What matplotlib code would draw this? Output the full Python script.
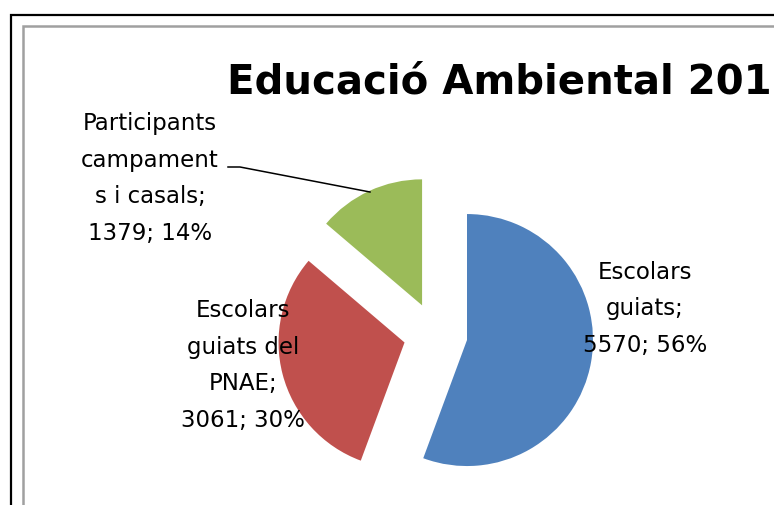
import matplotlib.pyplot as plt
from matplotlib.patches import Rectangle

# data
categories = ["Escolars\nguiats", "Escolars\nguiats del\nPNAE", "Participants\ncampament\ns i casals"]
values = [5570, 3061, 1379]
percents = [56, 30, 14]
colors = ["#4F81BD", "#C0504D", "#9BBB59"]
title = "Educació Ambiental 2012"

W, H = 774, 505
plt.rcParams['font.family'] = ['DejaVu Sans']

fig = plt.figure(figsize=(W / 100, H / 100), dpi=100)
ax = fig.add_axes([0, 0, 1, 1])


def py(y):
    # pixel row (from top) -> data y
    return H - y


# frame lines (outer black, inner gray), cut at right/bottom like the screenshot
ax.add_patch(Rectangle((11, py(530)), 900, 530 - 15, fill=False, ec='black', lw=1.6))
ax.add_patch(Rectangle((22.5, py(530)), 900, 530 - 26, fill=False, ec='#A0A0A0', lw=1.8))

# exploded pie, clockwise from 12 o'clock
ax.pie(values, colors=colors, startangle=90, counterclock=False,
       radius=126, center=(435.5, py(334.4)), explode=[32] * len(values),
       wedgeprops=dict(linewidth=0))

labels = [f"{c};\n{v}; {p}%" for c, v, p in zip(categories, values, percents)]
# (x centre, baseline of last line) in pixels
label_pos = [(645, 352), (243, 427), (150, 240)]
for lab, (x, y) in zip(labels, label_pos):
    ax.text(x, py(y), lab, ha='center', va='baseline', fontsize=16.5,
            linespacing=1.76, color='black')

# leader line for the small slice label
ax.plot([228, 240, 370], [py(167), py(167), py(192)], color='black', lw=1.1)

# title runs past the right edge, as in the original screenshot
ax.text(227, py(93), title, ha='left', va='baseline', fontsize=29, fontweight='bold')

ax.set_xlim(0, W)
ax.set_ylim(0, H)
ax.axis('off')

plt.savefig('out.png', dpi=100)
